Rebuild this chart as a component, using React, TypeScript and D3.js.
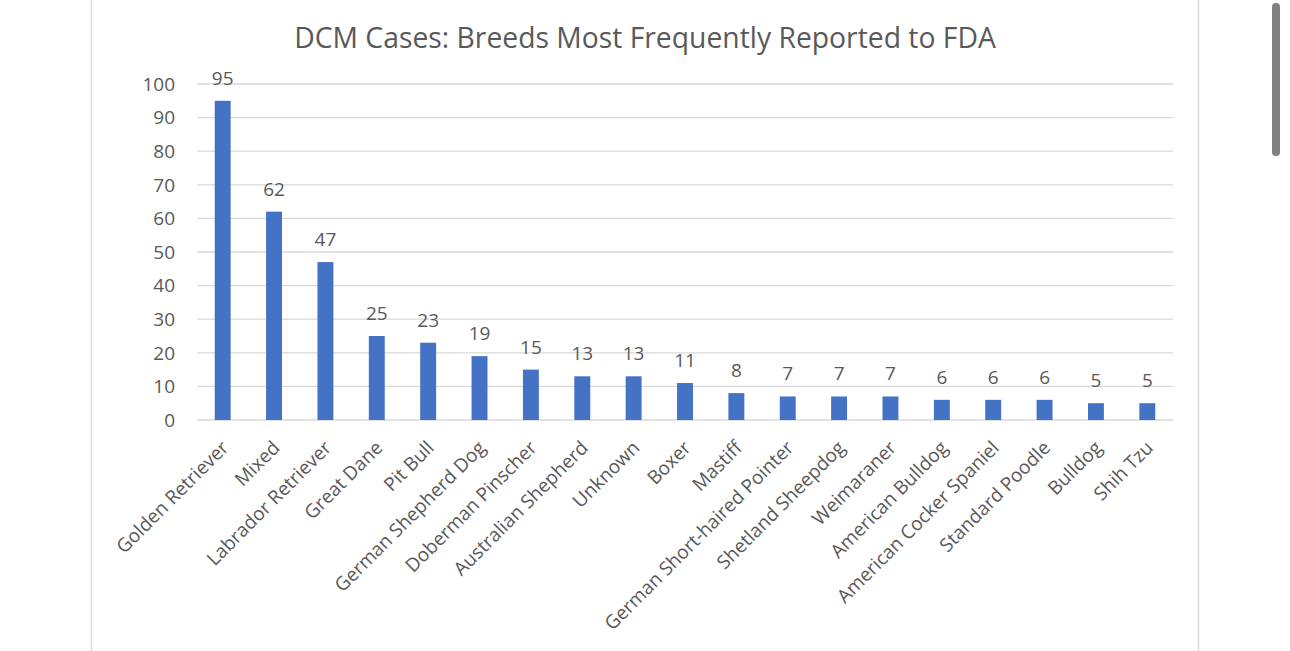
import React from 'react';
import * as d3 from 'd3';

const breeds = [
  'Golden Retriever', 'Mixed', 'Labrador Retriever', 'Great Dane', 'Pit Bull',
  'German Shepherd Dog', 'Doberman Pinscher', 'Australian Shepherd', 'Unknown', 'Boxer',
  'Mastiff', 'German Short-haired Pointer', 'Shetland Sheepdog', 'Weimaraner',
  'American Bulldog', 'American Cocker Spaniel', 'Standard Poodle', 'Bulldog', 'Shih Tzu',
];
const cases = [95, 62, 47, 25, 23, 19, 15, 13, 13, 11, 8, 7, 7, 7, 6, 6, 6, 5, 5];
const yTicks = [0, 10, 20, 30, 40, 50, 60, 70, 80, 90, 100];

const W = 1290;
const H = 651;
const FONT = '"Open Sans", sans-serif';
const TEXT = '#595959';

export default function App() {
  const x = d3.scaleBand<string>()
    .domain(breeds)
    .range([197, 1173])
    .paddingInner(0.69)
    .paddingOuter(0.345);

  const y = d3.scaleLinear().domain([0, 100]).range([420, 84]);

  return (
    <svg width={W} height={H} style={{ position: 'absolute', left: 0, top: 0, background: '#fff' }}>
      <rect width={W} height={H} fill="#fff" />
      {/* chart frame */}
      <line x1={91.5} x2={91.5} y1={0} y2={H} stroke="#d9d9d9" strokeWidth={1.5} />
      <line x1={1198.5} x2={1198.5} y1={0} y2={H} stroke="#d9d9d9" strokeWidth={1.5} />
      {/* scrollbar */}
      <rect x={1272} y={3} width={8} height={153} rx={4} fill="#808080" />

      <text x={645} y={48} textAnchor="middle" fontFamily={FONT} fontSize={28.3} fill={TEXT}>
        DCM Cases: Breeds Most Frequently Reported to FDA
      </text>

      {/* gridlines + y ticks */}
      {yTicks.map(t => (
        <g key={t}>
          <line x1={197} x2={1173} y1={y(t)} y2={y(t)} stroke="#d9d9d9" strokeWidth={1.3} />
          <text x={175} y={y(t)} dy="0.36em" textAnchor="end" fontFamily={FONT} fontSize={19} fill={TEXT}>
            {t}
          </text>
        </g>
      ))}

      {/* bars */}
      {breeds.map((b, i) => (
        <g key={b}>
          <rect x={x(b)} y={y(cases[i])} width={x.bandwidth()} height={y(0) - y(cases[i])} fill="#4472C4" />
          <text
            x={(x(b) ?? 0) + x.bandwidth() / 2}
            y={y(cases[i]) - 16}
            textAnchor="middle"
            fontFamily={FONT}
            fontSize={19}
            fill={TEXT}
          >
            {cases[i]}
          </text>
          <text
            transform={`translate(${(x(b) ?? 0) + x.bandwidth() / 2 + 7},${449}) rotate(-45)`}
            textAnchor="end"
            fontFamily={FONT}
            fontSize={19}
            fill={TEXT}
          >
            {b}
          </text>
        </g>
      ))}
    </svg>
  );
}
